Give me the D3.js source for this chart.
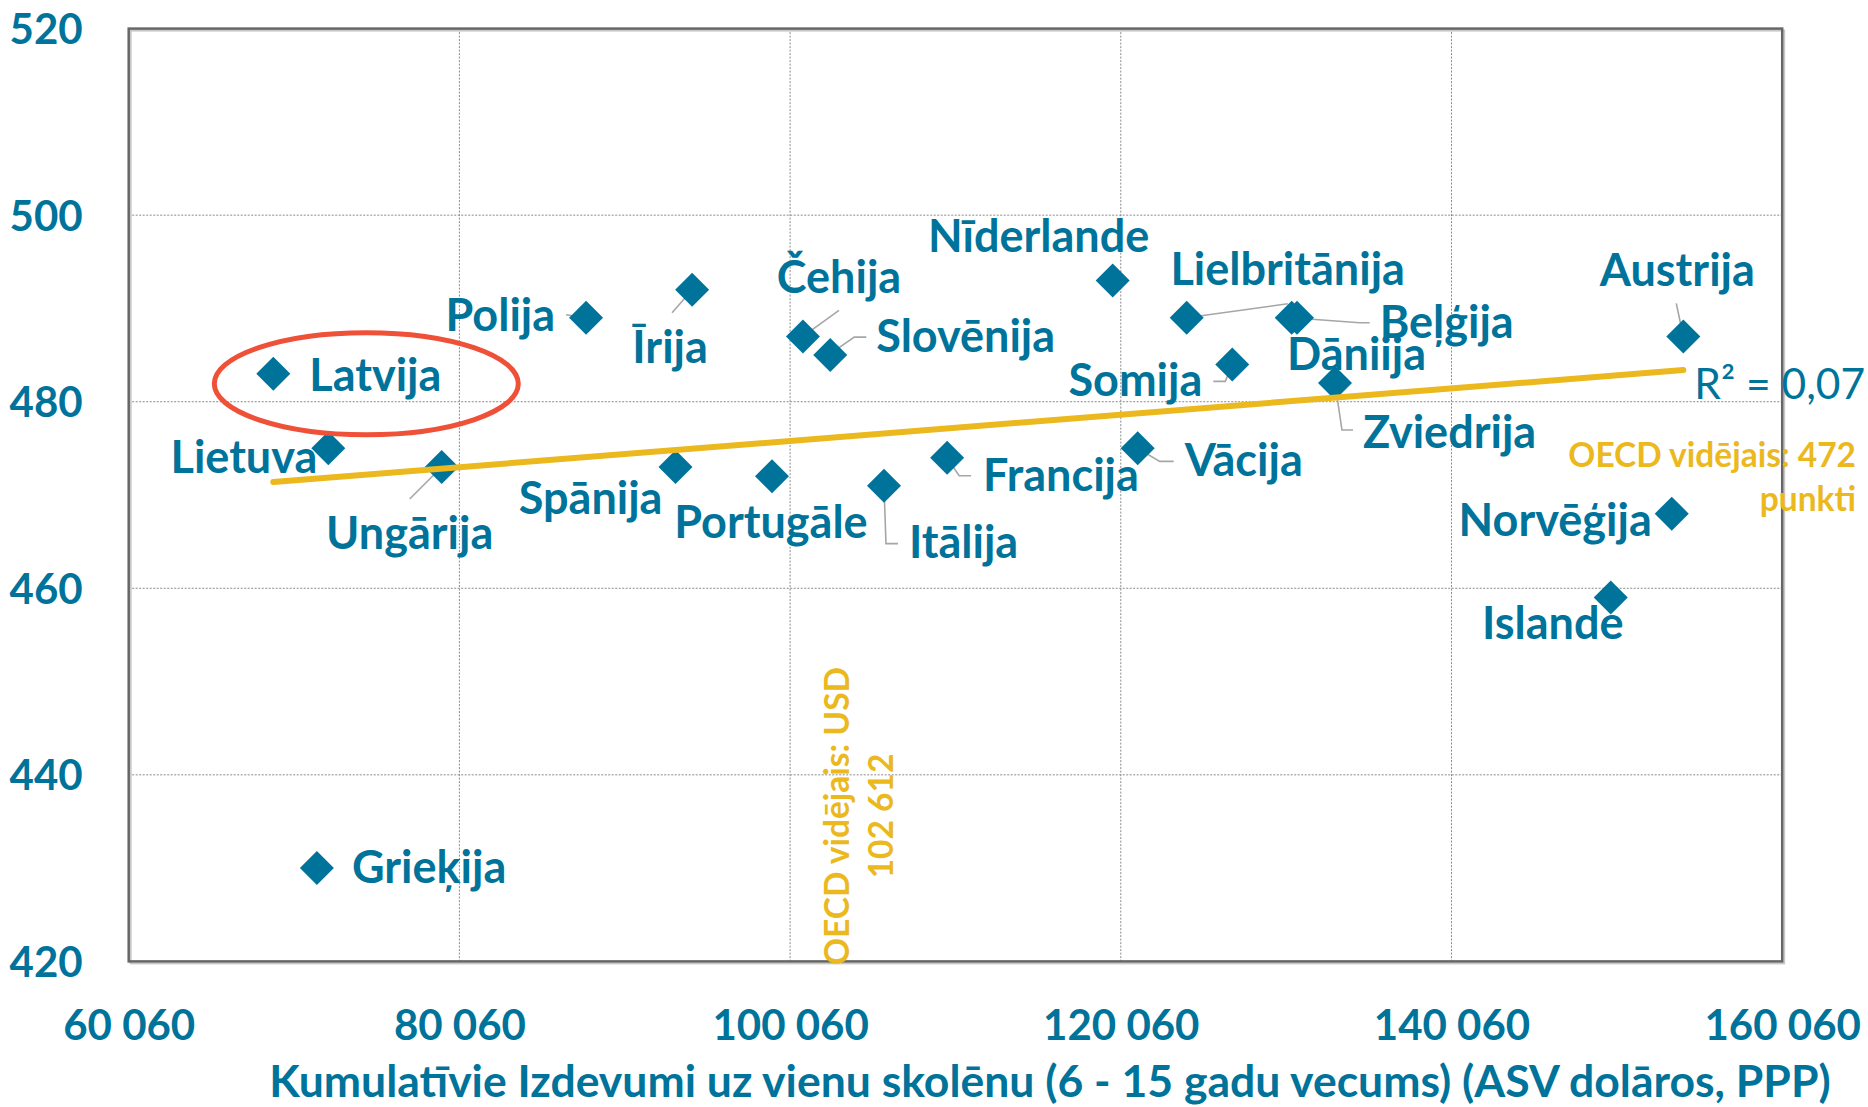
<!DOCTYPE html>
<html>
<head>
<meta charset="utf-8">
<script src="https://cdn.jsdelivr.net/npm/d3@7"></script>
<style>
  html, body { margin: 0; padding: 0; background: #ffffff; }
  svg { display: block; }
</style>
</head>
<body>
<svg id="chart" width="1868" height="1107"></svg>
<script>
// ---------------- DATA ----------------
const countries = ["Latvija", "Lietuva", "Ungārija", "Polija", "Īrija", "Spānija", "Portugāle",
  "Čehija", "Slovēnija", "Itālija", "Francija", "Nīderlande", "Vācija", "Lielbritānija",
  "Somija", "Beļģija", "Dāniija", "Zviedrija", "Austrija", "Norvēģija", "Islande", "Grieķija"];
const spending = [68805, 72131, 78990, 87722, 94133, 93128, 98964,
  100838, 102490, 105738, 109555, 119569, 121081, 124045,
  126802, 130395, 130717, 133013, 154078, 153380, 149690, 71442];
const scores = [483, 475, 473, 489, 492, 473, 472,
  487, 485, 471, 474, 493, 475, 489,
  484, 489, 489, 482, 487, 468, 459, 430];
const xTicks = [60060, 80060, 100060, 120060, 140060, 160060];
const yTicks = [420, 440, 460, 480, 500, 520];
const trendX = [68805, 154078];
const trendY = [471.4, 483.4];
const r2Text = "R² = 0,07";
const oecdScoreText = ["OECD vidējais: 472", "punkti"];
const oecdSpendText = ["OECD vidējais: USD", "102 612"];
const xTitle = "Kumulatīvie Izdevumi uz vienu skolēnu (6 - 15 gadu vecums) (ASV dolāros, PPP)";

// ---------------- LABEL LAYOUT (pixel offsets from each point) ----------------
const labelLayout = {
  "Latvija":       {a: "start",  dx: 36,  dy: 17},
  "Lietuva":       {a: "end",    dx: -11, dy: 25},
  "Ungārija":      {a: "middle", dx: -32, dy: 82, lead: [[0,0],[-32,32]]},
  "Polija":        {a: "end",    dx: -31, dy: 13, lead: [[-2,0],[-20,-3]]},
  "Īrija":         {a: "middle", dx: -22, dy: 73, lead: [[0,0],[-20,23]]},
  "Spānija":       {a: "end",    dx: -13, dy: 47},
  "Portugāle":     {a: "middle", dx: -1,  dy: 62, lead: [[0,0],[-1,13]]},
  "Čehija":        {a: "middle", dx: 36,  dy: -43, lead: [[0,0],[36,-26]]},
  "Slovēnija":     {a: "start",  dx: 46,  dy: -3, lead: [[-2,0],[24,-18],[36,-18]]},
  "Itālija":       {a: "start",  dx: 25,  dy: 72, lead: [[0,0],[2,58],[14,58]]},
  "Francija":      {a: "start",  dx: 36,  dy: 33, lead: [[0,0],[12,18],[24,18]]},
  "Nīderlande":    {a: "middle", dx: -74, dy: -28},
  "Vācija":        {a: "start",  dx: 47,  dy: 28, lead: [[0,0],[22,13],[36,13]]},
  "Lielbritānija": {a: "middle", dx: 101, dy: -33, lead: [[0,0],[101,-14]]},
  "Somija":        {a: "end",    dx: -30, dy: 32, lead: [[0,0],[-7,17],[-19,17]]},
  "Beļģija":       {a: "start",  dx: 88,  dy: 20, lead: [[0,0],[68,5],[78,5]]},
  "Dāniija":       {a: "start",  dx: -10, dy: 52},
  "Zviedrija":     {a: "start",  dx: 28,  dy: 65, lead: [[0,0],[7,47],[18,47]]},
  "Austrija":      {a: "middle", dx: -6,  dy: -50, lead: [[0,0],[-7,-33]]},
  "Norvēģija":     {a: "end",    dx: -20, dy: 22},
  "Islande":       {a: "middle", dx: -58, dy: 41},
  "Grieķija":      {a: "start",  dx: 35,  dy: 15}
};

// ---------------- STYLE ----------------
const TEAL = "#00739b";
const GOLD = "#ebb81e";
const RED = "#ef5038";
const FONT = "Lato, 'Open Sans', sans-serif";

const margin = {left: 128.7, right: 1868 - 1782.2, top: 28.6, bottom: 1107 - 961.4};
const W = 1868 - margin.left - margin.right;
const H = 1107 - margin.top - margin.bottom;

const svg = d3.select("#chart");
const g = svg.append("g").attr("transform", `translate(${margin.left},${margin.top})`);

const x = d3.scaleLinear().domain([60060, 160060]).range([0, W]);
const y = d3.scaleLinear().domain([420, 520]).range([H, 0]);

const loc = d3.formatLocale({decimal: ",", thousands: " ", grouping: [3], currency: ["", ""]});
const fmt = loc.format(",");

// gridlines
g.append("g").selectAll("line.hg")
  .data(yTicks.filter(v => v > 420 && v < 520))
  .join("line")
  .attr("x1", 0).attr("x2", W)
  .attr("y1", d => y(d)).attr("y2", d => y(d))
  .attr("stroke", "#8a8a8a").attr("stroke-width", 1).attr("stroke-dasharray", "2,1.5");
g.append("g").selectAll("line.vg")
  .data(xTicks.filter(v => v > 60060 && v < 160060))
  .join("line")
  .attr("y1", 0).attr("y2", H)
  .attr("x1", d => x(d)).attr("x2", d => x(d))
  .attr("stroke", "#8a8a8a").attr("stroke-width", 1).attr("stroke-dasharray", "2,1.5");

// plot border with light shadow
g.append("rect").attr("x", 2).attr("y", 2).attr("width", W).attr("height", H)
  .attr("fill", "none").attr("stroke", "#c8c8c8").attr("stroke-width", 2);
g.append("rect").attr("x", 0).attr("y", 0).attr("width", W).attr("height", H)
  .attr("fill", "none").attr("stroke", "#666666").attr("stroke-width", 2.5);

// axes
const yAxis = g.append("g").call(d3.axisLeft(y).tickValues(yTicks).tickSize(0).tickPadding(46).tickFormat(d => d));
const xAxis = g.append("g").attr("transform", `translate(0,${H})`)
  .call(d3.axisBottom(x).tickValues(xTicks).tickSize(0).tickPadding(48).tickFormat(fmt));
[yAxis, xAxis].forEach(ax => {
  ax.select(".domain").remove();
  ax.selectAll("text").attr("fill", TEAL).style("font-family", FONT)
    .style("font-weight", "bold").style("font-size", "42px");
});
xAxis.selectAll("text").attr("dy", null).attr("dominant-baseline", "auto")
  .attr("y", 79);
yAxis.selectAll("text").attr("dy", "0.36em");

// axis title
svg.append("text")
  .attr("x", 1050).attr("y", 1097)
  .attr("text-anchor", "middle")
  .attr("fill", TEAL).style("font-family", FONT).style("font-weight", "bold").style("font-size", "44.5px")
  .text(xTitle);

const pts = countries.map((c, i) => ({name: c, px: x(spending[i]), py: y(scores[i])}));

// leader lines
const line = d3.line();
g.append("g").selectAll("path.lead")
  .data(pts.filter(p => labelLayout[p.name].lead))
  .join("path")
  .attr("d", p => line(labelLayout[p.name].lead.map(([dx, dy]) => [p.px + dx, p.py + dy])))
  .attr("fill", "none").attr("stroke", "#a6a6a6").attr("stroke-width", 1.6);

// diamonds
const hs = 17;
g.append("g").selectAll("path.pt")
  .data(pts)
  .join("path")
  .attr("d", `M0,${-hs}L${hs},0L0,${hs}L${-hs},0Z`)
  .attr("transform", p => `translate(${p.px},${p.py})`)
  .attr("fill", TEAL);

// trend line
g.append("line")
  .attr("x1", x(trendX[0])).attr("y1", y(trendY[0]))
  .attr("x2", x(trendX[1])).attr("y2", y(trendY[1]))
  .attr("stroke", GOLD).attr("stroke-width", 6).attr("stroke-linecap", "round");

// country labels
g.append("g").selectAll("text.lbl")
  .data(pts)
  .join("text")
  .attr("x", p => p.px + labelLayout[p.name].dx)
  .attr("y", p => p.py + labelLayout[p.name].dy)
  .attr("text-anchor", p => labelLayout[p.name].a)
  .attr("fill", TEAL).style("font-family", FONT).style("font-weight", "bold").style("font-size", "45px")
  .text(p => p.name);

// R² label
g.append("text")
  .attr("x", x(trendX[1]) + 11).attr("y", y(trendY[1]) + 29)
  .attr("fill", TEAL).style("font-family", FONT).style("font-size", "42.5px")
  .text(r2Text);

// OECD score average text
svg.append("g").selectAll("text")
  .data(oecdScoreText)
  .join("text")
  .attr("x", 1856).attr("y", (d, i) => 467 + i * 44)
  .attr("text-anchor", "end")
  .attr("fill", GOLD).style("font-family", FONT).style("font-weight", "bold").style("font-size", "33.5px")
  .text(d => d);

// OECD spending average text (vertical)
svg.append("g").selectAll("text")
  .data(oecdSpendText)
  .join("text")
  .attr("transform", (d, i) => `translate(${849 + i * 44},816) rotate(-90)`)
  .attr("text-anchor", "middle")
  .attr("fill", GOLD).style("font-family", FONT).style("font-weight", "bold").style("font-size", "33.5px")
  .text(d => d);

// highlight ellipse around Latvija
const lv = pts.find(p => p.name === "Latvija");
g.append("ellipse")
  .attr("cx", lv.px + 93).attr("cy", lv.py + 10)
  .attr("rx", 152).attr("ry", 51)
  .attr("fill", "none").attr("stroke", RED).attr("stroke-width", 5);
</script>
</body>
</html>
